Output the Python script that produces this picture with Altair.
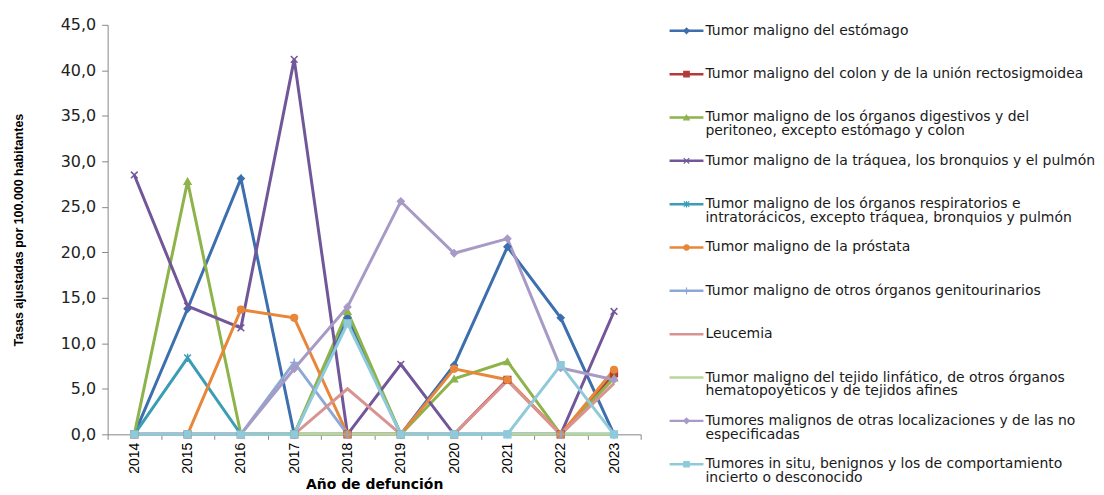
import altair as alt
import pandas as pd

years = [2014, 2015, 2016, 2017, 2018, 2019, 2020, 2021, 2022, 2023]

series = [
    "Tumor maligno del estómago",
    "Tumor maligno del colon y de la unión rectosigmoidea",
    "Tumor maligno de los órganos digestivos y del\nperitoneo, excepto estómago y colon",
    "Tumor maligno de la tráquea, los bronquios y el pulmón",
    "Tumor maligno de los órganos respiratorios e\nintratorácicos, excepto tráquea, bronquios y pulmón",
    "Tumor maligno de la próstata",
    "Tumor maligno de otros órganos genitourinarios",
    "Leucemia",
    "Tumor maligno del tejido linfático, de otros órganos\nhematopoyéticos y de tejidos afines",
    "Tumores malignos de otras localizaciones y de las no\nespecificadas",
    "Tumores in situ, benignos y los de comportamiento\nincierto o desconocido",
]

estomago = [0.0, 13.8, 28.1, 0.0, 12.8, 0.0, 7.6, 20.6, 12.8, 0.0]
colon = [0.0, 0.0, 0.0, 0.0, 0.0, 0.0, 0.0, 6.0, 0.0, 6.7]
digestivos = [0.0, 27.8, 0.0, 0.0, 13.5, 0.0, 6.1, 8.0, 0.0, 6.2]
traquea = [28.5, 14.1, 11.7, 41.2, 0.0, 7.7, 0.0, 0.0, 0.0, 13.5]
respiratorios = [0.0, 8.4, 0.0, 0.0, 0.0, 0.0, 0.0, 0.0, 0.0, 0.0]
prostata = [None, 0.0, 13.7, 12.8, 0.0, 0.0, 7.2, 6.0, 0.0, 7.1]
genitourinarios = [0.0, 0.0, 0.0, 7.9, 0.0, 0.0, 0.0, 0.0, 0.0, 0.0]
leucemia = [0.0, 0.0, 0.0, 0.0, 5.0, 0.0, 0.0, 5.9, 0.0, 5.6]
linfatico = [0.0, 0.0, 0.0, 0.0, 0.0, 0.0, 0.0, 0.0, 0.0, 0.0]
otras = [0.0, 0.0, 0.0, 7.2, 14.0, 25.6, 19.9, 21.5, 7.3, 6.0]
in_situ = [0.0, 0.0, 0.0, 0.0, 12.2, 0.0, 0.0, 0.0, 7.6, 0.0]

values = [estomago, colon, digestivos, traquea, respiratorios, prostata,
          genitourinarios, leucemia, linfatico, otras, in_situ]

colors = ["#3D6FAE", "#B23A3A", "#8DB34A", "#72569A", "#3A9DB5", "#E8873A",
          "#8EA8D6", "#D99491", "#B9D59A", "#A89AC6", "#8ECAD9"]

# marker shapes (vega symbol names / svg paths); "" = no marker
shapes = ["diamond", "square", "triangle-up",
          "M-1,-1L1,1M-1,1L1,-1",
          "M-1,-1L1,1M-1,1L1,-1M0,-1.2L0,1.2",
          "circle",
          "M-1.2,0H1.2M0,-1.2V1.2",
          "", "",
          "diamond", "square"]
markers = [True, True, True, True, True, True, True, False, False, True, True]

rows = []
for i, (name, vals) in enumerate(zip(series, values)):
    for y, v in zip(years, vals):
        rows.append({"serie": name, "orden": i, "anio": str(y), "tasa": v,
                     "marker": markers[i]})
df = pd.DataFrame(rows)

legend_df = pd.DataFrame({"serie": series, "orden": list(range(len(series))),
                          "marker": markers})

narrow = "Liberation Sans Narrow, Arial Narrow, Liberation Sans, sans-serif"
wide = "DejaVu Sans, Verdana, sans-serif"

color_scale = alt.Scale(domain=series, range=colors)
shape_scale = alt.Scale(domain=series, range=shapes)

x_enc = alt.X("anio:O", title="Año de defunción",
              axis=alt.Axis(labelAngle=-90, labelFont=narrow, labelFontSize=14,
                            labelColor="#000", tickBand="extent", tickSize=5,
                            tickColor="#888", domainColor="#888",
                            titleFont=wide, titleFontSize=14, titleFontWeight="bold",
                            titleColor="#000", titlePadding=4, labelPadding=3))
y_enc = alt.Y("tasa:Q", title="Tasas ajustadas por 100.000 habitantes",
              scale=alt.Scale(domain=[0, 45], nice=False),
              axis=alt.Axis(values=[0, 5, 10, 15, 20, 25, 30, 35, 40, 45],
                            labelExpr="replace(format(datum.value, '.1f'), '.', ',')",
                            labelFont=wide, labelFontSize=16, labelColor="#222",
                            tickSize=6, tickColor="#888", domainColor="#888",
                            grid=False, titleFont=narrow, titleFontSize=12.5,
                            titleFontWeight="bold", titleColor="#000",
                            titlePadding=35, labelPadding=6))

base = alt.Chart(df)

lines = base.mark_line(strokeWidth=3).encode(
    x=x_enc, y=y_enc,
    color=alt.Color("serie:N", scale=color_scale, legend=None),
    order=alt.Order("anio:O"),
    detail="serie:N",
)

points = base.transform_filter("datum.marker").mark_point(
    filled=True, size=45, strokeWidth=1.5, opacity=1
).encode(
    x="anio:O", y="tasa:Q",
    color=alt.Color("serie:N", scale=color_scale, legend=None),
    stroke=alt.Stroke("serie:N", scale=color_scale, legend=None),
    shape=alt.Shape("serie:N", scale=shape_scale, legend=None),
)

main = alt.layer(lines, points).properties(width=535, height=411)

# manual legend
lbase = alt.Chart(legend_df)
ly = alt.Y("orden:Q", scale=alt.Scale(domain=[-0.138, 10], reverse=True, nice=False,
                                      zero=False), axis=None)
lrule = lbase.mark_rule(strokeWidth=2.5).encode(
    x=alt.value(4), x2=alt.value(38), y=ly,
    color=alt.Color("serie:N", scale=color_scale, legend=None),
)
lpts = lbase.transform_filter("datum.marker").mark_point(
    filled=True, size=30, strokeWidth=1.2, opacity=1
).encode(
    x=alt.value(21), y=ly,
    color=alt.Color("serie:N", scale=color_scale, legend=None),
    stroke=alt.Stroke("serie:N", scale=color_scale, legend=None),
    shape=alt.Shape("serie:N", scale=shape_scale, legend=None),
)
ltext = lbase.mark_text(align="left", baseline="top", dy=-7, lineBreak="\n",
                        lineHeight=14, font=wide, fontSize=14,
                        color="#1a1a1a").encode(
    x=alt.value(40), y=ly, text="serie:N",
)
legend = alt.layer(lrule, lpts, ltext).properties(width=390, height=441)

chart = alt.hconcat(main, legend, spacing=24).properties(
    padding={"left": 4, "top": 8, "right": 0, "bottom": 0}
).configure_view(stroke=None).configure_concat(spacing=24)

chart.save("out.html", embed_options={"renderer": "svg", "actions": False})
